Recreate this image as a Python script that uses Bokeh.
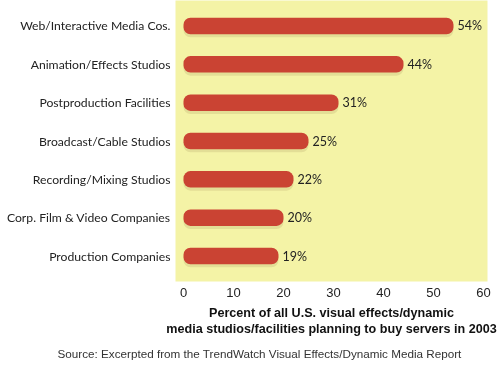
from bokeh.plotting import figure
from bokeh.models import Range1d, FactorRange, Title, ColumnDataSource
from bokeh.transform import dodge
from bokeh.core.properties import value
from bokeh.embed import file_html
from bokeh.resources import INLINE

categories = ["Web/Interactive Media Cos.", "Animation/Effects Studios", "Postproduction Facilities",
              "Broadcast/Cable Studios", "Recording/Mixing Studios", "Corp. Film & Video Companies",
              "Production Companies"]
percents = [54, 44, 31, 25, 22, 20, 19]
labels = [f"{v}%" for v in percents]
ticks = [0, 10, 20, 30, 40, 50, 60]

src = ColumnDataSource(dict(cat=categories, val=percents, lab=labels))

p = figure(width=500, height=364, output_backend="svg", toolbar_location=None,
           y_range=FactorRange(factors=categories[::-1], range_padding=0.165,
                               range_padding_units="absolute"),
           x_range=Range1d(-1.6, 60.8),
           min_border_left=175, min_border_right=13, min_border_top=0, min_border_bottom=17)
p.styles = {"position": "fixed", "left": "0px", "top": "0px"}
p.background_fill_color = "#f4f3a6"
p.border_fill_color = "white"
p.outline_line_color = None
p.grid.grid_line_color = None

p.hbar(y=dodge("cat", -0.08, range=p.y_range), right="val", left=0, height=0.43, source=src,
       fill_color="#e3de96", line_color=None, border_radius=7)
p.hbar(y="cat", right="val", left=0, height=0.43, source=src,
       fill_color="#ca4333", line_color=None, border_radius=7)
p.text(x="val", y="cat", text="lab", source=src, x_offset=4, text_baseline="middle",
       text_font=value("Lato"), text_font_size="12.5px", text_color="#222222")

p.xaxis.ticker = ticks
p.xaxis.axis_line_color = None
p.xaxis.major_tick_line_color = None
p.xaxis.minor_tick_line_color = None
p.xaxis.major_tick_out = 0
p.xaxis.minor_tick_out = 0
p.xaxis.major_label_text_font = "Liberation Sans"
p.xaxis.major_label_text_font_size = "13px"
p.xaxis.major_label_text_color = "#222222"
p.xaxis.major_label_standoff = 6
p.xaxis.axis_label = "Percent of all U.S. visual effects/dynamic\nmedia studios/facilities planning to buy servers in 2003"
p.xaxis.axis_label_text_font = "Liberation Sans"
p.xaxis.axis_label_text_font_style = "bold"
p.xaxis.axis_label_text_font_size = "12.6px"
p.xaxis.axis_label_text_color = "#111111"
p.xaxis.axis_label_standoff = 6

p.yaxis.axis_line_color = None
p.yaxis.major_tick_line_color = None
p.yaxis.minor_tick_line_color = None
p.yaxis.major_tick_out = 0
p.yaxis.minor_tick_out = 0
p.yaxis.major_label_text_font = "Lato"
p.yaxis.major_label_text_font_size = "12.2px"
p.yaxis.major_label_text_color = "#222222"
p.yaxis.major_label_standoff = 5

p.add_layout(Title(text="Source: Excerpted from the TrendWatch Visual Effects/Dynamic Media Report",
                   align="left", offset=-118, text_font="Liberation Sans", text_font_size="11.7px",
                   text_font_style="normal", text_color="#333333", standoff=10), "below")

open("out.html", "w").write(file_html(p, INLINE))
